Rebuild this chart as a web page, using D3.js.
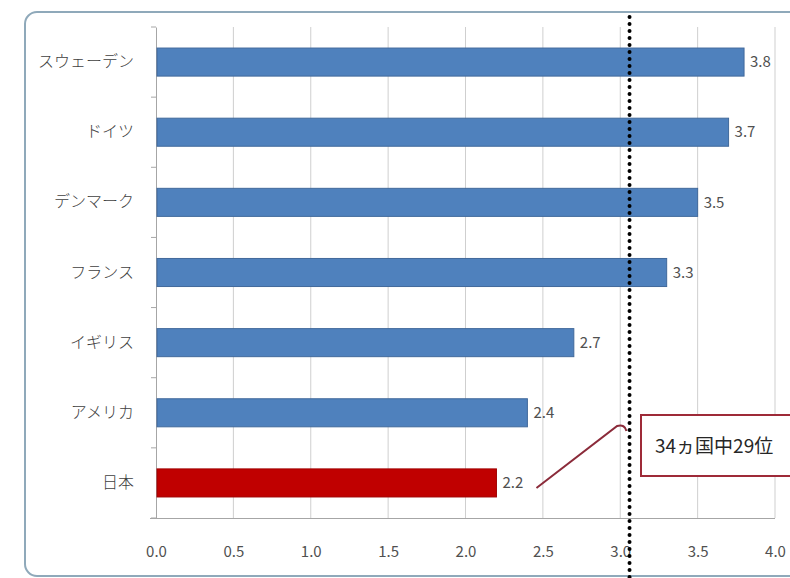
<!DOCTYPE html>
<html>
<head>
<meta charset="utf-8">
<script src="https://cdn.jsdelivr.net/npm/d3@7"></script>
<style>
  body { margin: 0; background: #fff; }
  svg { display: block; }
</style>
</head>
<body>
<div id="viz"></div>
<script>
const countries = ["スウェーデン", "ドイツ", "デンマーク", "フランス", "イギリス", "アメリカ", "日本"];
const values = [3.8, 3.7, 3.5, 3.3, 2.7, 2.4, 2.2];
const xTicks = [0, 0.5, 1, 1.5, 2, 2.5, 3, 3.5, 4];
const averageLine = 3.06;
const calloutText = "34ヵ国中29位";

const width = 790, height = 578;
const font = "'Noto Sans CJK JP', 'Noto Sans', sans-serif";

const svg = d3.select("#viz").append("svg")
  .attr("width", width)
  .attr("height", height);

// outer frame, runs past the right edge like in the original
svg.append("rect")
  .attr("x", 25).attr("y", 12)
  .attr("width", 800).attr("height", 564)
  .attr("rx", 12)
  .attr("fill", "#fff")
  .attr("stroke", "#8fa9ba")
  .attr("stroke-width", 2);

const x = d3.scaleLinear().domain([0, 4]).range([156, 775]);
const y = d3.scaleBand().domain(countries).range([27, 518]).paddingInner(0.6).paddingOuter(0.3);

// gridlines
svg.append("g")
  .selectAll("line")
  .data(xTicks.slice(1))
  .join("line")
  .attr("x1", d => x(d)).attr("x2", d => x(d))
  .attr("y1", 27).attr("y2", 518)
  .attr("stroke", "#cfcfcf")
  .attr("stroke-width", 1);

// x axis
const xAxis = svg.append("g")
  .attr("transform", "translate(0,518)")
  .call(d3.axisBottom(x).tickValues(xTicks).tickFormat(d3.format(".1f")).tickSize(0).tickPadding(28));
xAxis.select(".domain").attr("stroke", "#a6a6a6").attr("d", "M150,0.5H775");
xAxis.selectAll("text")
  .attr("font-family", font)
  .attr("font-size", 15)
  .attr("fill", "#505050");

// y axis
const band = (518 - 27) / countries.length;
const yAxis = svg.append("g")
  .attr("transform", "translate(156,0)")
  .call(d3.axisLeft(y).tickSize(0).tickPadding(22));
yAxis.select(".domain").attr("stroke", "#a6a6a6");
yAxis.selectAll("text")
  .attr("font-family", font)
  .attr("font-size", 16)
  .attr("font-weight", 300)
  .attr("fill", "#404040");
yAxis.selectAll(".cat-tick")
  .data(d3.range(countries.length + 1))
  .join("line")
  .attr("class", "cat-tick")
  .attr("x1", -5).attr("x2", 0)
  .attr("y1", i => 27 + i * band).attr("y2", i => 27 + i * band)
  .attr("stroke", "#a6a6a6");

// bars
svg.append("g")
  .selectAll("rect")
  .data(countries)
  .join("rect")
  .attr("x", x(0) + 1)
  .attr("y", d => y(d))
  .attr("width", (d, i) => x(values[i]) - x(0) - 1)
  .attr("height", y.bandwidth())
  .attr("fill", d => d === "日本" ? "#c00000" : "#4f81bd")
  .attr("stroke", d => d === "日本" ? "#a00000" : "#41699b")
  .attr("stroke-width", 1);

// value labels
svg.append("g")
  .selectAll("text")
  .data(countries)
  .join("text")
  .attr("x", (d, i) => x(values[i]) + 6)
  .attr("y", d => y(d) + y.bandwidth() / 2)
  .attr("dy", "0.35em")
  .attr("font-family", font)
  .attr("font-size", 15)
  .attr("fill", "#505050")
  .text((d, i) => values[i].toFixed(1));

// dotted reference line
svg.append("line")
  .attr("x1", x(averageLine)).attr("x2", x(averageLine))
  .attr("y1", 17).attr("y2", 580)
  .attr("stroke", "#000")
  .attr("stroke-width", 4)
  .attr("stroke-linecap", "round")
  .attr("stroke-dasharray", "0 7");

// callout
const japanY = y("日本") + y.bandwidth() / 2;
svg.append("path")
  .attr("d", `M${x(2.2) + 40},${japanY + 5} L${x(2.98)},426 Q${x(3.03)},424 ${x(3.04)},431`)
  .attr("fill", "none")
  .attr("stroke", "#8b2b3a")
  .attr("stroke-width", 2);

svg.append("rect")
  .attr("x", 641).attr("y", 415)
  .attr("width", 170).attr("height", 61)
  .attr("fill", "#fff")
  .attr("stroke", "#9e2a38")
  .attr("stroke-width", 2);

svg.append("text")
  .attr("x", 655).attr("y", 446)
  .attr("dy", "0.35em")
  .attr("font-family", font)
  .attr("font-size", 19)
  .attr("font-weight", 400)
  .attr("fill", "#262626")
  .text(calloutText);
</script>
</body>
</html>
